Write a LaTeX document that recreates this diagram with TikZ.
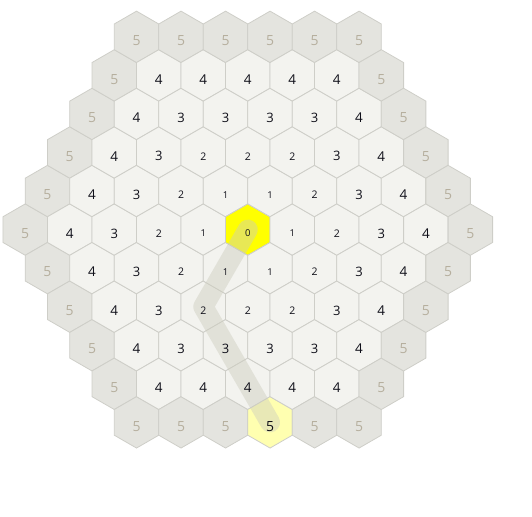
\documentclass[tikz,border=0pt]{standalone}
\usepackage{fontspec}
\setmainfont{Open Sans}
\usetikzlibrary{calc}
\definecolor{cellfill}{RGB}{243,243,239}
\definecolor{ringfill}{RGB}{228,228,223}
\definecolor{cellline}{RGB}{206,206,200}
\definecolor{startfill}{RGB}{255,255,0}
\definecolor{goalfill}{RGB}{255,255,176}
\definecolor{pathcolor}{RGB}{205,205,190}
\definecolor{numcolor}{RGB}{15,15,25}
\definecolor{farcolor}{RGB}{182,175,158}

\begin{document}
\begin{tikzpicture}[x=1pt,y=-1pt,
    hexcell/.style={draw=cellline, line width=0.8pt},
    trail/.style={pathcolor, line width=20pt, line cap=round, line join=round, opacity=0.45},
    num/.style={inner sep=0pt, text=numcolor}]
  \useasboundingbox (0,0) rectangle (532,516);
  \def\s{25.7}
  \def\cx{247.8}
  \def\cy{229.6}
  % the cells of the hexagonal grid
  \foreach \q in {-5,...,5}{
    \foreach \r in {-5,...,5}{
      \pgfmathtruncatemacro\d{max(abs(\q),abs(\r),abs(\q+\r))}
      \ifnum\d>5\else
        \pgfmathsetmacro\px{\cx+\s*sqrt(3)*(\q+\r/2)}
        \pgfmathsetmacro\py{\cy+1.5*\s*\r}
        \coordinate (c\q\r) at (\px,\py);
        \ifnum\d=5 \def\fc{ringfill}\else \def\fc{cellfill}\fi
        \ifnum\d=0 \def\fc{startfill}\fi
        \ifnum\q=-2 \ifnum\r=5 \def\fc{goalfill}\fi\fi
        \draw[hexcell, fill=\fc] (c\q\r) +(90:\s) -- +(150:\s) -- +(210:\s)
          -- +(270:\s) -- +(330:\s) -- +(30:\s) -- cycle;
      \fi
    }
  }
  % path from the start to the goal
  \draw[trail] (c00) -- (c-11) -- (c-22) -- (c-23) -- (c-24) -- (c-25);
  % distance labels
  \foreach \q in {-5,...,5}{
    \foreach \r in {-5,...,5}{
      \pgfmathtruncatemacro\d{max(abs(\q),abs(\r),abs(\q+\r))}
      \ifnum\d>5\else
        \pgfmathsetmacro\fs{{9.5,9.5,10.5,13,13.5,14}[\d]}
        \ifnum\d=5 \def\tc{farcolor}\else \def\tc{numcolor}\fi
        \ifnum\q=-2 \ifnum\r=5 \def\tc{numcolor}\fi\fi
        \node[num, text=\tc, yshift=-3.8pt] (n\q\r) at (c\q\r)
          {\fontsize{\fs}{\fs}\selectfont\d};
      \fi
    }
  }
\end{tikzpicture}
\end{document}
